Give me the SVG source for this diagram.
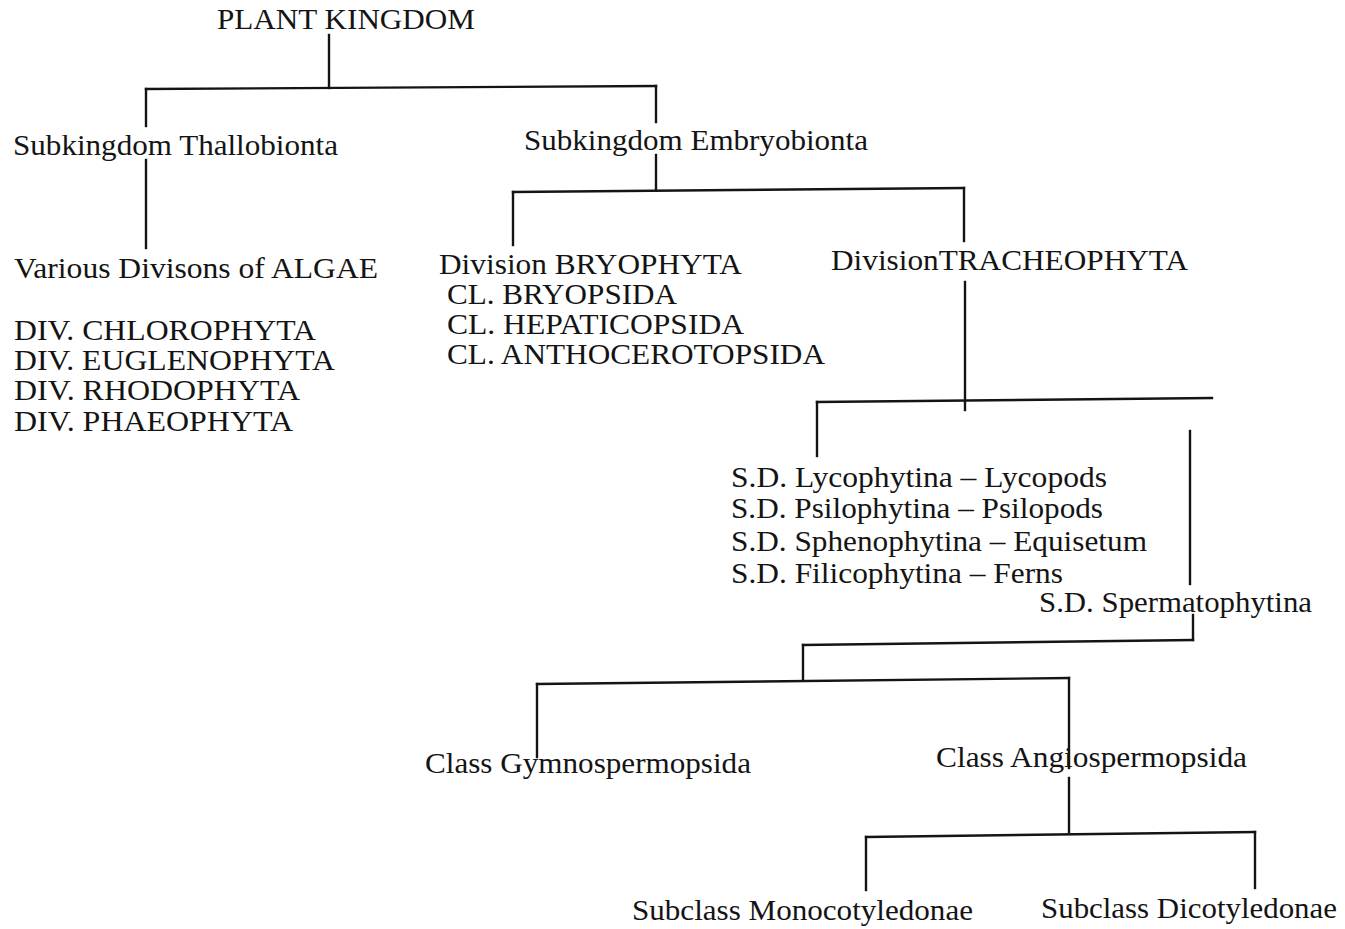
<svg xmlns="http://www.w3.org/2000/svg" width="1345" height="929" viewBox="0 0 1345 929">
<style>
text{font-family:"Liberation Serif","Times New Roman",serif;font-size:29px;fill:#141414}
.big{font-size:30px}
.c line{stroke:#141414;stroke-width:2.4;stroke-linecap:square}
</style>
<rect width="1345" height="929" fill="#ffffff"/>
<g class="c" id="connectors">
<line x1="329" y1="35" x2="329" y2="88"/>
<line x1="146" y1="89" x2="656" y2="86"/>
<line x1="146" y1="89" x2="146" y2="126"/>
<line x1="656" y1="86" x2="656" y2="122"/>
<line x1="146" y1="160" x2="146" y2="248"/>
<line x1="656" y1="155" x2="656" y2="190"/>
<line x1="513" y1="192" x2="964" y2="188"/>
<line x1="513" y1="192" x2="513" y2="245"/>
<line x1="964" y1="188" x2="964" y2="241"/>
<line x1="965" y1="282" x2="965" y2="410"/>
<line x1="817" y1="402" x2="1212" y2="398"/>
<line x1="817" y1="402" x2="817" y2="456"/>
<line x1="1190" y1="431" x2="1190" y2="584"/>
<line x1="1193" y1="615" x2="1193" y2="640"/>
<line x1="803" y1="645" x2="1193" y2="640"/>
<line x1="803" y1="645" x2="803" y2="680"/>
<line x1="537" y1="684" x2="1069" y2="678"/>
<line x1="537" y1="684" x2="537" y2="757"/>
<line x1="1069" y1="678" x2="1069" y2="768"/>
<line x1="1069" y1="778" x2="1069" y2="832"/>
<line x1="866" y1="837" x2="1255" y2="832"/>
<line x1="866" y1="837" x2="866" y2="890"/>
<line x1="1255" y1="832" x2="1255" y2="888"/>
</g>
<g id="plant-kingdom"><text class="big" x="217" y="29" textLength="258" lengthAdjust="spacingAndGlyphs">PLANT KINGDOM</text></g>
<g id="thallobionta"><text class="big" x="13" y="155" textLength="325" lengthAdjust="spacingAndGlyphs">Subkingdom Thallobionta</text></g>
<g id="embryobionta"><text class="big" x="524" y="150" textLength="344" lengthAdjust="spacingAndGlyphs">Subkingdom Embryobionta</text></g>
<g id="algae">
<text x="14" y="278" textLength="364" lengthAdjust="spacingAndGlyphs">Various Divisons of ALGAE</text>
<text x="14" y="340" textLength="302" lengthAdjust="spacingAndGlyphs">DIV. CHLOROPHYTA</text>
<text x="14" y="370" textLength="321" lengthAdjust="spacingAndGlyphs">DIV. EUGLENOPHYTA</text>
<text x="14" y="400" textLength="286" lengthAdjust="spacingAndGlyphs">DIV. RHODOPHYTA</text>
<text x="14" y="431" textLength="279" lengthAdjust="spacingAndGlyphs">DIV. PHAEOPHYTA</text>
</g>
<g id="bryophyta">
<text x="439" y="274" textLength="303" lengthAdjust="spacingAndGlyphs">Division BRYOPHYTA</text>
<text x="447" y="304" textLength="230" lengthAdjust="spacingAndGlyphs">CL. BRYOPSIDA</text>
<text x="447" y="334" textLength="297" lengthAdjust="spacingAndGlyphs">CL. HEPATICOPSIDA</text>
<text x="447" y="364" textLength="378" lengthAdjust="spacingAndGlyphs">CL. ANTHOCEROTOPSIDA</text>
</g>
<g id="tracheophyta"><text x="831" y="270" textLength="357" lengthAdjust="spacingAndGlyphs">DivisionTRACHEOPHYTA</text></g>
<g id="subdivisions">
<text x="731" y="487" textLength="376" lengthAdjust="spacingAndGlyphs">S.D. Lycophytina – Lycopods</text>
<text x="731" y="518" textLength="372" lengthAdjust="spacingAndGlyphs">S.D. Psilophytina – Psilopods</text>
<text x="731" y="551" textLength="416" lengthAdjust="spacingAndGlyphs">S.D. Sphenophytina – Equisetum</text>
<text x="731" y="583" textLength="332" lengthAdjust="spacingAndGlyphs">S.D. Filicophytina – Ferns</text>
</g>
<g id="spermatophytina"><text x="1039" y="612" textLength="273" lengthAdjust="spacingAndGlyphs">S.D. Spermatophytina</text></g>
<g id="gymnospermopsida"><text x="425" y="773" textLength="326" lengthAdjust="spacingAndGlyphs">Class Gymnospermopsida</text></g>
<g id="angiospermopsida"><text x="936" y="767" textLength="311" lengthAdjust="spacingAndGlyphs">Class Angiospermopsida</text></g>
<g id="monocotyledonae"><text x="632" y="920" textLength="341" lengthAdjust="spacingAndGlyphs">Subclass Monocotyledonae</text></g>
<g id="dicotyledonae"><text x="1041" y="918" textLength="296" lengthAdjust="spacingAndGlyphs">Subclass Dicotyledonae</text></g>
</svg>
